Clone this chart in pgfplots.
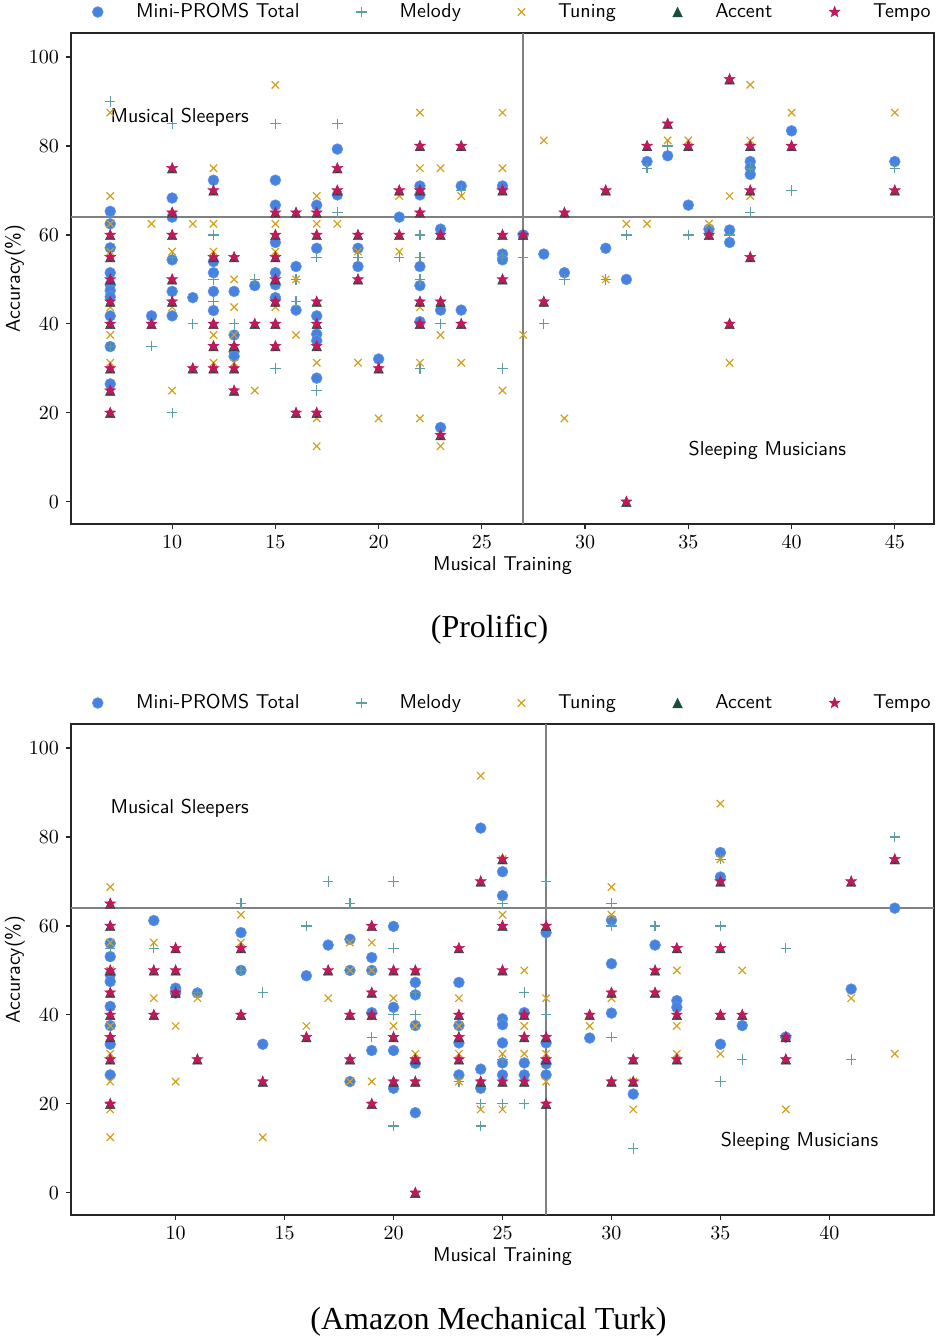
\documentclass[border=0pt]{standalone}
\usepackage{fontspec}
\usepackage{pgfplots}
\usepackage{pgfplotstable}
\pgfplotsset{compat=1.18}
\newfontfamily\capfont{Liberation Serif}

\definecolor{cTot}{HTML}{4682E0}
\definecolor{cMel}{HTML}{5F9EA0}
\definecolor{cTun}{HTML}{D4A017}
\definecolor{cAcc}{HTML}{1B4D3E}
\definecolor{cTem}{HTML}{C2185B}
\definecolor{cRef}{HTML}{808080}

% filled five-point star
\pgfdeclareplotmark{fstar}{%
  \pgfpathmoveto{\pgfpointpolar{90}{\pgfplotmarksize}}%
  \pgfpathlineto{\pgfpointpolar{126}{0.42\pgfplotmarksize}}%
  \pgfpathlineto{\pgfpointpolar{162}{\pgfplotmarksize}}%
  \pgfpathlineto{\pgfpointpolar{198}{0.42\pgfplotmarksize}}%
  \pgfpathlineto{\pgfpointpolar{234}{\pgfplotmarksize}}%
  \pgfpathlineto{\pgfpointpolar{270}{0.42\pgfplotmarksize}}%
  \pgfpathlineto{\pgfpointpolar{306}{\pgfplotmarksize}}%
  \pgfpathlineto{\pgfpointpolar{342}{0.42\pgfplotmarksize}}%
  \pgfpathlineto{\pgfpointpolar{18}{\pgfplotmarksize}}%
  \pgfpathlineto{\pgfpointpolar{54}{0.42\pgfplotmarksize}}%
  \pgfpathclose
  \pgfusepathqfillstroke
}
% matplotlib-like upward triangle (base below the star tips)
\pgfdeclareplotmark{mtri}{%
  \pgfpathmoveto{\pgfpoint{0pt}{\pgfplotmarksize}}%
  \pgfpathlineto{\pgfpoint{-\pgfplotmarksize}{-\pgfplotmarksize}}%
  \pgfpathlineto{\pgfpoint{\pgfplotmarksize}{-\pgfplotmarksize}}%
  \pgfpathclose
  \pgfusepathqfillstroke
}

% ---------- Prolific ----------
\pgfplotstableread[row sep=\\]{x y\\
7 65.3\\ 7 62.5\\ 7 57.1\\ 7 51.5\\ 7 48.8\\ 7 47.5\\ 7 46.1\\ 7 41.8\\ 7 34.9\\ 7 26.5\\
9 41.8\\ 10 68.3\\ 10 64\\ 10 54.4\\ 10 47.3\\ 10 41.8\\ 11 45.9\\
12 72.3\\ 12 54\\ 12 51.5\\ 12 47.3\\ 12 43\\ 13 47.3\\ 13 37.5\\ 13 33.8\\ 13 32.7\\ 14 48.6\\
15 72.3\\ 15 66.7\\ 15 58.3\\ 15 51.5\\ 15 48.8\\ 15 45.9\\ 16 52.9\\ 16 43.1\\
17 66.7\\ 17 57\\ 17 41.8\\ 17 37.7\\ 17 36.2\\ 17 27.8\\ 18 79.3\\ 18 69\\ 19 57\\ 19 52.9\\
20 32.1\\ 21 64\\ 22 71\\ 22 69\\ 22 52.9\\ 22 48.6\\ 22 40.5\\ 23 61.3\\ 23 43.1\\ 23 16.7\\
24 71\\ 24 43.1\\ 26 71\\ 26 55.7\\ 26 54.4\\ 27 60\\ 28 55.7\\ 29 51.5\\ 31 57\\ 32 50\\
33 76.5\\ 34 77.8\\ 35 66.7\\ 36 61.3\\ 37 61.1\\ 37 58.3\\ 38 76.5\\ 38 75.1\\ 38 73.6\\ 40 83.4\\ 45 76.5\\
}\pTot
\pgfplotstableread[row sep=\\]{x y\\
7 90\\ 7 35\\ 9 35\\ 10 85\\ 10 55\\ 10 20\\ 11 40\\ 12 60\\ 12 50\\ 12 45\\ 13 40\\ 14 50\\
15 85\\ 15 30\\ 16 50\\ 16 45\\ 17 55\\ 17 25\\ 18 85\\ 18 65\\ 19 55\\ 21 55\\ 22 60\\ 22 55\\
22 50\\ 22 30\\ 23 40\\ 24 70\\ 26 55\\ 26 30\\ 27 55\\ 28 40\\ 29 50\\ 31 50\\ 32 60\\ 33 75\\
34 80\\ 35 60\\ 36 60\\ 37 60\\ 38 75\\ 38 65\\ 40 70\\ 45 75\\
}\pMel
\pgfplotstableread[row sep=\\]{x y\\
7 87.5\\ 7 68.75\\ 7 62.5\\ 7 56.25\\ 7 43.75\\ 7 37.5\\ 7 31.25\\ 9 62.5\\ 10 56.25\\ 10 43.75\\
10 25\\ 11 62.5\\ 12 75\\ 12 62.5\\ 12 56.25\\ 12 37.5\\ 12 31.25\\ 13 50\\ 13 43.75\\ 13 37.5\\
13 31.25\\ 14 25\\ 15 93.75\\ 15 62.5\\ 15 56.25\\ 15 43.75\\ 16 50\\ 16 37.5\\ 17 68.75\\ 17 62.5\\
17 31.25\\ 17 18.75\\ 17 12.5\\ 18 62.5\\ 19 56.25\\ 19 31.25\\ 20 18.75\\ 21 68.75\\ 21 56.25\\
22 87.5\\ 22 75\\ 22 43.75\\ 22 31.25\\ 22 18.75\\ 23 75\\ 23 37.5\\ 23 12.5\\ 24 68.75\\ 24 31.25\\
26 87.5\\ 26 75\\ 26 25\\ 27 37.5\\ 28 81.25\\ 29 18.75\\ 31 50\\ 32 62.5\\ 33 62.5\\ 34 81.25\\
35 81.25\\ 36 62.5\\ 37 68.75\\ 37 31.25\\ 38 93.75\\ 38 81.25\\ 38 68.75\\ 40 87.5\\ 45 87.5\\
}\pTun
\pgfplotstableread[row sep=\\]{x y\\
7 60\\ 7 55\\ 7 50\\ 7 45\\ 7 40\\ 7 30\\ 7 25\\ 7 20\\ 9 40\\ 10 75\\ 10 65\\ 10 60\\ 10 50\\
10 45\\ 11 30\\ 12 70\\ 12 55\\ 12 40\\ 12 35\\ 12 30\\ 13 55\\ 13 35\\ 13 30\\ 13 25\\ 14 40\\
15 65\\ 15 60\\ 15 55\\ 15 50\\ 15 45\\ 15 40\\ 15 35\\ 16 65\\ 16 20\\ 17 65\\ 17 60\\ 17 45\\
17 40\\ 17 35\\ 17 20\\ 18 75\\ 18 70\\ 19 60\\ 19 50\\ 20 30\\ 21 70\\ 21 60\\ 22 80\\ 22 70\\
22 65\\ 22 45\\ 22 40\\ 23 60\\ 23 45\\ 23 15\\ 24 80\\ 24 40\\ 26 70\\ 26 60\\ 26 50\\ 27 60\\
28 45\\ 29 65\\ 31 70\\ 32 0\\ 33 80\\ 34 85\\ 35 80\\ 36 60\\ 37 95\\ 37 40\\ 38 80\\ 38 70\\
38 55\\ 40 80\\ 45 70\\
}\pTem

% ---------- Amazon Mechanical Turk ----------
\pgfplotstableread[row sep=\\]{x y\\
7 56.1\\ 7 53.1\\ 7 49\\ 7 47.5\\ 7 41.9\\ 7 37.6\\ 7 33.4\\ 7 26.5\\ 9 61.2\\ 10 46\\ 10 44.9\\
11 44.9\\ 13 58.5\\ 13 50\\ 14 33.4\\ 16 48.8\\ 17 55.7\\ 18 57\\ 18 50\\ 18 25\\ 19 52.9\\
19 50\\ 19 40.5\\ 19 32\\ 20 59.9\\ 20 41.7\\ 20 32\\ 20 23.5\\ 21 47.3\\ 21 44.5\\ 21 37.6\\
21 29.1\\ 21 18\\ 23 47.3\\ 23 37.6\\ 23 33.7\\ 23 26.5\\ 24 82\\ 24 27.8\\ 24 23.5\\ 25 72.2\\
25 66.8\\ 25 39.1\\ 25 37.8\\ 25 33.7\\ 25 29.2\\ 25 26.5\\ 26 40.5\\ 26 29.2\\ 26 26.5\\
27 58.5\\ 27 33.7\\ 27 29\\ 27 26.5\\ 29 34.8\\ 30 61.3\\ 30 51.5\\ 30 40.4\\ 31 22.2\\ 32 55.7\\
33 43.2\\ 33 41.7\\ 35 76.5\\ 35 71\\ 35 33.4\\ 36 37.6\\ 38 35\\ 41 45.8\\ 43 64\\
}\mTot
\pgfplotstableread[row sep=\\]{x y\\
7 55\\ 7 20\\ 9 55\\ 11 45\\ 13 65\\ 13 50\\ 14 45\\ 16 60\\ 17 70\\ 18 65\\ 19 35\\ 20 70\\
20 55\\ 20 40\\ 20 15\\ 21 45\\ 21 40\\ 23 25\\ 24 20\\ 24 15\\ 25 65\\ 25 30\\ 25 20\\ 26 45\\
26 20\\ 27 70\\ 27 40\\ 30 65\\ 30 60\\ 30 35\\ 31 10\\ 32 60\\ 35 75\\ 35 60\\ 35 25\\ 36 30\\
38 55\\ 41 30\\ 43 80\\
}\mMel
\pgfplotstableread[row sep=\\]{x y\\
7 68.75\\ 7 56.25\\ 7 50\\ 7 37.5\\ 7 31.25\\ 7 25\\ 7 18.75\\ 7 12.5\\ 9 56.25\\ 9 43.75\\
10 37.5\\ 10 25\\ 11 43.75\\ 13 62.5\\ 13 56.25\\ 14 12.5\\ 16 37.5\\ 17 43.75\\ 18 56.25\\
18 50\\ 18 25\\ 19 56.25\\ 19 50\\ 19 25\\ 20 43.75\\ 20 37.5\\ 21 37.5\\ 21 31.25\\ 23 43.75\\
23 37.5\\ 23 31.25\\ 23 25\\ 24 93.75\\ 24 18.75\\ 25 75\\ 25 62.5\\ 25 31.25\\ 25 18.75\\
26 50\\ 26 37.5\\ 26 31.25\\ 27 43.75\\ 27 31.25\\ 27 25\\ 29 37.5\\ 30 68.75\\ 30 62.5\\
30 43.75\\ 31 25\\ 31 18.75\\ 33 50\\ 33 37.5\\ 33 31.25\\ 35 87.5\\ 35 75\\ 35 31.25\\ 36 50\\
38 18.75\\ 41 43.75\\ 43 31.25\\
}\mTun
\pgfplotstableread[row sep=\\]{x y\\
7 65\\ 7 60\\ 7 50\\ 7 45\\ 7 40\\ 7 35\\ 7 30\\ 7 20\\ 9 50\\ 9 40\\ 10 55\\ 10 50\\ 10 45\\
11 30\\ 13 55\\ 13 40\\ 14 25\\ 16 35\\ 17 50\\ 18 40\\ 18 30\\ 19 60\\ 19 45\\ 19 40\\ 19 20\\
20 50\\ 20 35\\ 20 25\\ 21 50\\ 21 30\\ 21 25\\ 21 0\\ 23 55\\ 23 40\\ 23 35\\ 23 30\\ 24 70\\
24 25\\ 25 75\\ 25 60\\ 25 50\\ 25 25\\ 26 40\\ 26 35\\ 26 25\\ 27 60\\ 27 35\\ 27 30\\ 27 20\\
29 40\\ 30 45\\ 30 25\\ 31 30\\ 31 25\\ 32 50\\ 32 45\\ 33 55\\ 33 40\\ 33 30\\ 35 70\\ 35 55\\
35 40\\ 36 40\\ 38 35\\ 38 30\\ 41 70\\ 43 75\\
}\mTem

\pgfplotsset{
  panel/.style={
    scale only axis, width=431.5pt, height=245.5pt,
    ymin=-5, ymax=105.4, ytick={0,20,...,100},
    tick pos=left, tick align=outside, major tick length=2.5pt,
    axis line style={line width=0.8pt, black!85},
    tick style={line width=0.6pt, black!85},
    xlabel={Musical Training}, ylabel={Accuracy(\%)},
    label style={font=\sffamily},
    xlabel style={yshift=3pt},
    ylabel style={at={(axis description cs:0,0.5)}, anchor=center, yshift=28pt},
    legend columns=5, legend cell align=left,
    legend style={at={(0,1)}, anchor=west, xshift=10.5pt, yshift=10.5pt,
      draw=none, fill=none, inner sep=0pt, font=\sffamily, nodes={inner sep=0pt},
      /tikz/every odd column/.append style={column sep=16.5pt},
      /tikz/every even column/.append style={column sep=28.4pt}},
  },
  tot/.style={only marks, mark=*, mark size=2.7pt, color=cTot,
    mark options={fill=cTot, draw=cTot!85!white, line width=0.3pt}},
  mel/.style={only marks, mark=+, mark size=2.6pt, color=cMel, mark options={line width=0.6pt}},
  tun/.style={only marks, mark=x, mark size=2.6pt, color=cTun, mark options={line width=0.6pt}},
  acc/.style={only marks, mark=mtri, mark size=2.4pt, color=cAcc,
    mark options={fill=cAcc, draw=cAcc, line width=0.2pt}},
  tem/.style={only marks, mark=fstar, mark size=2.9pt, color=cTem,
    mark options={fill=cTem, draw=cTem, line width=0.2pt}},
  refl/.style={cRef, line width=0.7pt, forget plot},
}

\begin{document}
\begin{tikzpicture}
\useasboundingbox (0,0) rectangle (469.5pt,-669.5pt);

\begin{axis}[panel, at={(35.5pt,-262pt)}, anchor=south west,
  xmin=5.1, xmax=46.9, xtick={10,15,...,45}]
\addplot[refl] coordinates {(27,-5) (27,105.4)};
\addplot[refl] coordinates {(5.1,64) (46.9,64)};
\addplot[tot] table {\pTot};
\addplot[mel] table {\pMel};
\addplot[tun] table {\pTun};
\addplot[acc] table {\pTem};
\addplot[tem] table {\pTem};
\legend{Mini-PROMS Total, Melody, Tuning, Accent, Tempo}
\node[anchor=west, font=\sffamily, inner sep=0pt] at (axis cs:7,86.5) {Musical Sleepers};
\node[anchor=west, font=\sffamily, inner sep=0pt] at (axis cs:35,11.5) {Sleeping Musicians};
\end{axis}

\begin{axis}[panel, at={(35.5pt,-607.5pt)}, anchor=south west,
  xmin=5.2, xmax=44.8, xtick={10,15,...,40}]
\addplot[refl] coordinates {(27,-5) (27,105.4)};
\addplot[refl] coordinates {(5.2,64) (44.8,64)};
\addplot[tot] table {\mTot};
\addplot[mel] table {\mMel};
\addplot[tun] table {\mTun};
\addplot[acc] table {\mTem};
\addplot[tem] table {\mTem};
\legend{Mini-PROMS Total, Melody, Tuning, Accent, Tempo}
\node[anchor=west, font=\sffamily, inner sep=0pt] at (axis cs:7,86.5) {Musical Sleepers};
\node[anchor=west, font=\sffamily, inner sep=0pt] at (axis cs:35,11.5) {Sleeping Musicians};
\end{axis}

\node[font=\capfont\fontsize{16}{19}\selectfont] at (244.75pt,-315pt) {(Prolific)};
\node[font=\capfont\fontsize{16}{19}\selectfont] at (244.25pt,-661pt) {(Amazon Mechanical Turk)};
\end{tikzpicture}
\end{document}
